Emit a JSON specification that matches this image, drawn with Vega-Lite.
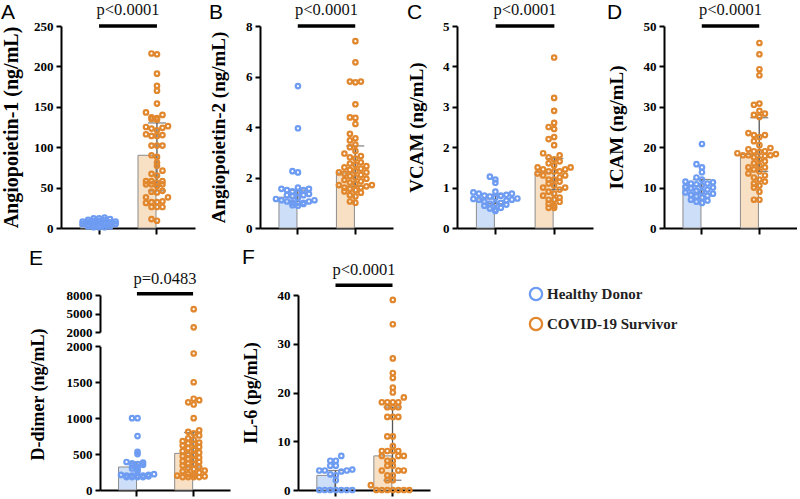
{
"$schema":"https://vega.github.io/schema/vega-lite/v6.json",
"padding":{"left":1,"top":2,"right":0,"bottom":0},
"spacing":12,
"center":true,
"datasets":{
"sum":[
{"p":"A","g":"H","m":5,"lo":3,"hi":8},{"p":"A","g":"C","m":90,"lo":46,"hi":130},
{"p":"B","g":"H","m":1.22,"lo":1.05,"hi":1.5},{"p":"B","g":"C","m":2.18,"lo":1.65,"hi":3.25},
{"p":"C","g":"H","m":0.72,"lo":0.6,"hi":0.83},{"p":"C","g":"C","m":1.38,"lo":0.95,"hi":1.72},
{"p":"D","g":"H","m":10.5,"lo":8.5,"hi":12},{"p":"D","g":"C","m":18.2,"lo":14,"hi":27.3},
{"p":"E","g":"H","m":320,"lo":200,"hi":390},{"p":"E","g":"C","m":510,"lo":320,"hi":800},
{"p":"F","g":"H","m":3,"lo":0,"hi":4},{"p":"F","g":"C","m":7,"lo":2,"hi":17}],
"sig":[{"p":"A","t":"p<0.0001"},{"p":"B","t":"p<0.0001"},{"p":"C","t":"p<0.0001"},{"p":"D","t":"p<0.0001"},{"p":"E","t":"p=0.0483"},{"p":"F","t":"p<0.0001"}],
"leg":[{"name":"Healthy Donor"},{"name":"COVID-19 Survivor"}],
"pts":[
{"p":"A","g":"H","v":13},{"p":"A","g":"H","v":12},{"p":"A","g":"H","v":12},{"p":"A","g":"H","v":11},{"p":"A","g":"H","v":10},{"p":"A","g":"H","v":10},{"p":"A","g":"H","v":9},{"p":"A","g":"H","v":9},{"p":"A","g":"H","v":8},{"p":"A","g":"H","v":8},{"p":"A","g":"H","v":7},{"p":"A","g":"H","v":7},{"p":"A","g":"H","v":6},{"p":"A","g":"H","v":6},{"p":"A","g":"H","v":6},{"p":"A","g":"H","v":5},{"p":"A","g":"H","v":5},{"p":"A","g":"H","v":5},{"p":"A","g":"H","v":4},{"p":"A","g":"H","v":4},{"p":"A","g":"H","v":3},{"p":"A","g":"H","v":3},{"p":"A","g":"H","v":2},{"p":"A","g":"H","v":2},{"p":"A","g":"H","v":1},{"p":"A","g":"H","v":1},{"p":"A","g":"H","v":1},
{"p":"A","g":"C","v":216},{"p":"A","g":"C","v":215},{"p":"A","g":"C","v":191},{"p":"A","g":"C","v":176},{"p":"A","g":"C","v":170},{"p":"A","g":"C","v":154},{"p":"A","g":"C","v":143},{"p":"A","g":"C","v":140},{"p":"A","g":"C","v":137},{"p":"A","g":"C","v":136},{"p":"A","g":"C","v":135},{"p":"A","g":"C","v":134},{"p":"A","g":"C","v":126},{"p":"A","g":"C","v":125},{"p":"A","g":"C","v":124},{"p":"A","g":"C","v":123},{"p":"A","g":"C","v":121},{"p":"A","g":"C","v":116},{"p":"A","g":"C","v":115},{"p":"A","g":"C","v":114},{"p":"A","g":"C","v":114},{"p":"A","g":"C","v":102},{"p":"A","g":"C","v":102},{"p":"A","g":"C","v":102},{"p":"A","g":"C","v":90},{"p":"A","g":"C","v":88},{"p":"A","g":"C","v":81},{"p":"A","g":"C","v":77},{"p":"A","g":"C","v":71},{"p":"A","g":"C","v":67},{"p":"A","g":"C","v":65},{"p":"A","g":"C","v":58},{"p":"A","g":"C","v":58},{"p":"A","g":"C","v":58},{"p":"A","g":"C","v":56},{"p":"A","g":"C","v":54},{"p":"A","g":"C","v":54},{"p":"A","g":"C","v":54},{"p":"A","g":"C","v":52},{"p":"A","g":"C","v":46},{"p":"A","g":"C","v":45},{"p":"A","g":"C","v":44},{"p":"A","g":"C","v":38},{"p":"A","g":"C","v":38},{"p":"A","g":"C","v":33},{"p":"A","g":"C","v":32},{"p":"A","g":"C","v":32},{"p":"A","g":"C","v":31},{"p":"A","g":"C","v":26},{"p":"A","g":"C","v":26},{"p":"A","g":"C","v":26},{"p":"A","g":"C","v":11},{"p":"A","g":"C","v":9},
{"p":"B","g":"H","v":5.62},{"p":"B","g":"H","v":3.95},{"p":"B","g":"H","v":2.25},{"p":"B","g":"H","v":2.2},{"p":"B","g":"H","v":1.6},{"p":"B","g":"H","v":1.55},{"p":"B","g":"H","v":1.55},{"p":"B","g":"H","v":1.5},{"p":"B","g":"H","v":1.5},{"p":"B","g":"H","v":1.45},{"p":"B","g":"H","v":1.4},{"p":"B","g":"H","v":1.35},{"p":"B","g":"H","v":1.3},{"p":"B","g":"H","v":1.3},{"p":"B","g":"H","v":1.25},{"p":"B","g":"H","v":1.2},{"p":"B","g":"H","v":1.15},{"p":"B","g":"H","v":1.1},{"p":"B","g":"H","v":1.1},{"p":"B","g":"H","v":1.05},{"p":"B","g":"H","v":1.05},{"p":"B","g":"H","v":1.0},{"p":"B","g":"H","v":1.0},{"p":"B","g":"H","v":1.0},{"p":"B","g":"H","v":0.95},{"p":"B","g":"H","v":0.9},{"p":"B","g":"H","v":0.88},
{"p":"B","g":"C","v":7.4},{"p":"B","g":"C","v":6.56},{"p":"B","g":"C","v":5.8},{"p":"B","g":"C","v":5.8},{"p":"B","g":"C","v":5.77},{"p":"B","g":"C","v":4.9},{"p":"B","g":"C","v":4.38},{"p":"B","g":"C","v":4.36},{"p":"B","g":"C","v":4.12},{"p":"B","g":"C","v":3.73},{"p":"B","g":"C","v":3.55},{"p":"B","g":"C","v":3.47},{"p":"B","g":"C","v":3.3},{"p":"B","g":"C","v":3.2},{"p":"B","g":"C","v":3.05},{"p":"B","g":"C","v":2.95},{"p":"B","g":"C","v":2.85},{"p":"B","g":"C","v":2.8},{"p":"B","g":"C","v":2.75},{"p":"B","g":"C","v":2.6},{"p":"B","g":"C","v":2.55},{"p":"B","g":"C","v":2.5},{"p":"B","g":"C","v":2.45},{"p":"B","g":"C","v":2.4},{"p":"B","g":"C","v":2.35},{"p":"B","g":"C","v":2.3},{"p":"B","g":"C","v":2.25},{"p":"B","g":"C","v":2.2},{"p":"B","g":"C","v":2.2},{"p":"B","g":"C","v":2.15},{"p":"B","g":"C","v":2.1},{"p":"B","g":"C","v":2.05},{"p":"B","g":"C","v":2.0},{"p":"B","g":"C","v":1.95},{"p":"B","g":"C","v":1.9},{"p":"B","g":"C","v":1.85},{"p":"B","g":"C","v":1.8},{"p":"B","g":"C","v":1.75},{"p":"B","g":"C","v":1.7},{"p":"B","g":"C","v":1.7},{"p":"B","g":"C","v":1.65},{"p":"B","g":"C","v":1.6},{"p":"B","g":"C","v":1.6},{"p":"B","g":"C","v":1.55},{"p":"B","g":"C","v":1.5},{"p":"B","g":"C","v":1.45},{"p":"B","g":"C","v":1.4},{"p":"B","g":"C","v":1.3},{"p":"B","g":"C","v":1.25},{"p":"B","g":"C","v":1.05},{"p":"B","g":"C","v":1.0},
{"p":"C","g":"H","v":1.27},{"p":"C","g":"H","v":1.2},{"p":"C","g":"H","v":1.12},{"p":"C","g":"H","v":0.9},{"p":"C","g":"H","v":0.88},{"p":"C","g":"H","v":0.85},{"p":"C","g":"H","v":0.85},{"p":"C","g":"H","v":0.82},{"p":"C","g":"H","v":0.8},{"p":"C","g":"H","v":0.8},{"p":"C","g":"H","v":0.78},{"p":"C","g":"H","v":0.75},{"p":"C","g":"H","v":0.73},{"p":"C","g":"H","v":0.72},{"p":"C","g":"H","v":0.7},{"p":"C","g":"H","v":0.7},{"p":"C","g":"H","v":0.68},{"p":"C","g":"H","v":0.65},{"p":"C","g":"H","v":0.62},{"p":"C","g":"H","v":0.6},{"p":"C","g":"H","v":0.6},{"p":"C","g":"H","v":0.58},{"p":"C","g":"H","v":0.55},{"p":"C","g":"H","v":0.5},{"p":"C","g":"H","v":0.48},{"p":"C","g":"H","v":0.45},{"p":"C","g":"H","v":0.42},
{"p":"C","g":"C","v":4.22},{"p":"C","g":"C","v":3.22},{"p":"C","g":"C","v":2.9},{"p":"C","g":"C","v":2.6},{"p":"C","g":"C","v":2.5},{"p":"C","g":"C","v":2.45},{"p":"C","g":"C","v":2.25},{"p":"C","g":"C","v":2.2},{"p":"C","g":"C","v":2.05},{"p":"C","g":"C","v":1.85},{"p":"C","g":"C","v":1.8},{"p":"C","g":"C","v":1.75},{"p":"C","g":"C","v":1.7},{"p":"C","g":"C","v":1.65},{"p":"C","g":"C","v":1.6},{"p":"C","g":"C","v":1.55},{"p":"C","g":"C","v":1.5},{"p":"C","g":"C","v":1.5},{"p":"C","g":"C","v":1.45},{"p":"C","g":"C","v":1.45},{"p":"C","g":"C","v":1.4},{"p":"C","g":"C","v":1.4},{"p":"C","g":"C","v":1.4},{"p":"C","g":"C","v":1.35},{"p":"C","g":"C","v":1.3},{"p":"C","g":"C","v":1.3},{"p":"C","g":"C","v":1.25},{"p":"C","g":"C","v":1.2},{"p":"C","g":"C","v":1.2},{"p":"C","g":"C","v":1.15},{"p":"C","g":"C","v":1.1},{"p":"C","g":"C","v":1.05},{"p":"C","g":"C","v":1.0},{"p":"C","g":"C","v":1.0},{"p":"C","g":"C","v":0.95},{"p":"C","g":"C","v":0.9},{"p":"C","g":"C","v":0.85},{"p":"C","g":"C","v":0.8},{"p":"C","g":"C","v":0.75},{"p":"C","g":"C","v":0.7},{"p":"C","g":"C","v":0.7},{"p":"C","g":"C","v":0.65},{"p":"C","g":"C","v":0.6},{"p":"C","g":"C","v":0.55},{"p":"C","g":"C","v":0.5},{"p":"C","g":"C","v":0.5},
{"p":"D","g":"H","v":20.8},{"p":"D","g":"H","v":15.8},{"p":"D","g":"H","v":15},{"p":"D","g":"H","v":13.8},{"p":"D","g":"H","v":12.5},{"p":"D","g":"H","v":12},{"p":"D","g":"H","v":11.5},{"p":"D","g":"H","v":11.3},{"p":"D","g":"H","v":11},{"p":"D","g":"H","v":11},{"p":"D","g":"H","v":10.8},{"p":"D","g":"H","v":10.5},{"p":"D","g":"H","v":10.2},{"p":"D","g":"H","v":10},{"p":"D","g":"H","v":9.8},{"p":"D","g":"H","v":9.5},{"p":"D","g":"H","v":9.2},{"p":"D","g":"H","v":9},{"p":"D","g":"H","v":8.8},{"p":"D","g":"H","v":8.5},{"p":"D","g":"H","v":8.2},{"p":"D","g":"H","v":8},{"p":"D","g":"H","v":7.8},{"p":"D","g":"H","v":7.5},{"p":"D","g":"H","v":7},{"p":"D","g":"H","v":6.8},{"p":"D","g":"H","v":6.5},{"p":"D","g":"H","v":6.2},
{"p":"D","g":"C","v":45.8},{"p":"D","g":"C","v":43},{"p":"D","g":"C","v":39.3},{"p":"D","g":"C","v":37.8},{"p":"D","g":"C","v":30.8},{"p":"D","g":"C","v":30.5},{"p":"D","g":"C","v":29},{"p":"D","g":"C","v":28.3},{"p":"D","g":"C","v":28},{"p":"D","g":"C","v":27.5},{"p":"D","g":"C","v":23.5},{"p":"D","g":"C","v":23},{"p":"D","g":"C","v":23},{"p":"D","g":"C","v":22.5},{"p":"D","g":"C","v":21.5},{"p":"D","g":"C","v":20.5},{"p":"D","g":"C","v":19.8},{"p":"D","g":"C","v":19.5},{"p":"D","g":"C","v":19},{"p":"D","g":"C","v":19},{"p":"D","g":"C","v":18.8},{"p":"D","g":"C","v":18.5},{"p":"D","g":"C","v":18.3},{"p":"D","g":"C","v":18},{"p":"D","g":"C","v":18},{"p":"D","g":"C","v":18},{"p":"D","g":"C","v":17.8},{"p":"D","g":"C","v":17.5},{"p":"D","g":"C","v":17},{"p":"D","g":"C","v":16.5},{"p":"D","g":"C","v":16},{"p":"D","g":"C","v":15.5},{"p":"D","g":"C","v":15},{"p":"D","g":"C","v":15},{"p":"D","g":"C","v":14.5},{"p":"D","g":"C","v":14},{"p":"D","g":"C","v":13.5},{"p":"D","g":"C","v":13},{"p":"D","g":"C","v":12.5},{"p":"D","g":"C","v":12},{"p":"D","g":"C","v":11.5},{"p":"D","g":"C","v":11},{"p":"D","g":"C","v":10.5},{"p":"D","g":"C","v":10},{"p":"D","g":"C","v":9},{"p":"D","g":"C","v":7},{"p":"D","g":"C","v":7},
{"p":"E","g":"H","v":1000},{"p":"E","g":"H","v":1000},{"p":"E","g":"H","v":750},{"p":"E","g":"H","v":530},{"p":"E","g":"H","v":500},{"p":"E","g":"H","v":390},{"p":"E","g":"H","v":380},{"p":"E","g":"H","v":370},{"p":"E","g":"H","v":360},{"p":"E","g":"H","v":350},{"p":"E","g":"H","v":340},{"p":"E","g":"H","v":320},{"p":"E","g":"H","v":300},{"p":"E","g":"H","v":290},{"p":"E","g":"H","v":260},{"p":"E","g":"H","v":220},{"p":"E","g":"H","v":210},{"p":"E","g":"H","v":210},{"p":"E","g":"H","v":200},{"p":"E","g":"H","v":200},{"p":"E","g":"H","v":200},{"p":"E","g":"H","v":200},{"p":"E","g":"H","v":190},{"p":"E","g":"H","v":180},{"p":"E","g":"H","v":180},{"p":"E","g":"H","v":180},{"p":"E","g":"H","v":180},
{"p":"E","g":"C","v":5700},{"p":"E","g":"C","v":2760},{"p":"E","g":"C","v":1900},{"p":"E","g":"C","v":1500},{"p":"E","g":"C","v":1270},{"p":"E","g":"C","v":1250},{"p":"E","g":"C","v":1220},{"p":"E","g":"C","v":1190},{"p":"E","g":"C","v":1000},{"p":"E","g":"C","v":830},{"p":"E","g":"C","v":810},{"p":"E","g":"C","v":790},{"p":"E","g":"C","v":760},{"p":"E","g":"C","v":720},{"p":"E","g":"C","v":700},{"p":"E","g":"C","v":680},{"p":"E","g":"C","v":660},{"p":"E","g":"C","v":650},{"p":"E","g":"C","v":640},{"p":"E","g":"C","v":620},{"p":"E","g":"C","v":600},{"p":"E","g":"C","v":580},{"p":"E","g":"C","v":560},{"p":"E","g":"C","v":540},{"p":"E","g":"C","v":520},{"p":"E","g":"C","v":500},{"p":"E","g":"C","v":490},{"p":"E","g":"C","v":470},{"p":"E","g":"C","v":450},{"p":"E","g":"C","v":430},{"p":"E","g":"C","v":420},{"p":"E","g":"C","v":400},{"p":"E","g":"C","v":390},{"p":"E","g":"C","v":370},{"p":"E","g":"C","v":360},{"p":"E","g":"C","v":340},{"p":"E","g":"C","v":320},{"p":"E","g":"C","v":310},{"p":"E","g":"C","v":290},{"p":"E","g":"C","v":270},{"p":"E","g":"C","v":260},{"p":"E","g":"C","v":240},{"p":"E","g":"C","v":220},{"p":"E","g":"C","v":210},{"p":"E","g":"C","v":200},{"p":"E","g":"C","v":190},{"p":"E","g":"C","v":180},{"p":"E","g":"C","v":180},{"p":"E","g":"C","v":180},{"p":"E","g":"C","v":180},
{"p":"F","g":"H","v":7},{"p":"F","g":"H","v":6},{"p":"F","g":"H","v":6},{"p":"F","g":"H","v":5},{"p":"F","g":"H","v":5},{"p":"F","g":"H","v":4.2},{"p":"F","g":"H","v":4},{"p":"F","g":"H","v":4},{"p":"F","g":"H","v":4},{"p":"F","g":"H","v":3.8},{"p":"F","g":"H","v":3.2},{"p":"F","g":"H","v":3},{"p":"F","g":"H","v":2},{"p":"F","g":"H","v":0},{"p":"F","g":"H","v":0},{"p":"F","g":"H","v":0},{"p":"F","g":"H","v":0},{"p":"F","g":"H","v":0},{"p":"F","g":"H","v":0},{"p":"F","g":"H","v":0},
{"p":"F","g":"C","v":39},{"p":"F","g":"C","v":34},{"p":"F","g":"C","v":27},{"p":"F","g":"C","v":24},{"p":"F","g":"C","v":23},{"p":"F","g":"C","v":21},{"p":"F","g":"C","v":20},{"p":"F","g":"C","v":19},{"p":"F","g":"C","v":18},{"p":"F","g":"C","v":18},{"p":"F","g":"C","v":18},{"p":"F","g":"C","v":18},{"p":"F","g":"C","v":17},{"p":"F","g":"C","v":17},{"p":"F","g":"C","v":17},{"p":"F","g":"C","v":15},{"p":"F","g":"C","v":15},{"p":"F","g":"C","v":15},{"p":"F","g":"C","v":11},{"p":"F","g":"C","v":11},{"p":"F","g":"C","v":9},{"p":"F","g":"C","v":8},{"p":"F","g":"C","v":8},{"p":"F","g":"C","v":8},{"p":"F","g":"C","v":8},{"p":"F","g":"C","v":7},{"p":"F","g":"C","v":7},{"p":"F","g":"C","v":7},{"p":"F","g":"C","v":6},{"p":"F","g":"C","v":6},{"p":"F","g":"C","v":5},{"p":"F","g":"C","v":5},{"p":"F","g":"C","v":4},{"p":"F","g":"C","v":4},{"p":"F","g":"C","v":4},{"p":"F","g":"C","v":3},{"p":"F","g":"C","v":3},{"p":"F","g":"C","v":2},{"p":"F","g":"C","v":2},{"p":"F","g":"C","v":1},{"p":"F","g":"C","v":0},{"p":"F","g":"C","v":0},{"p":"F","g":"C","v":0},{"p":"F","g":"C","v":0},{"p":"F","g":"C","v":0},{"p":"F","g":"C","v":0},{"p":"F","g":"C","v":0}
]},
"vconcat":[
{"spacing":14,"hconcat":[
{"width":134,"height":202,"title":{"text":"A","offset":-21},
"layer":[
{"data":{"name":"sum"},"transform":[{"filter":{"field":"p","equal":"A"}}],"mark":{"type":"bar","stroke":"#8c8c8c","strokeWidth":1},
"encoding":{"x":{"field":"g","type":"nominal","title":null,"scale":{"domain":["H","C"],"paddingInner":0.345,"paddingOuter":0.33},"axis":{"labels":false}},
"y":{"field":"m","type":"quantitative","title":"Angiopoietin-1 (ng/mL)","scale":{"domain":[0,250],"nice":false},"axis":{"values":[0,50,100,150,200,250],"minExtent":40,"maxExtent":40,"titleFontSize":20}},
"fill":{"field":"g","type":"nominal","scale":{"domain":["H","C"],"range":["#cddef8","#f8e0c4"]},"legend":null}}},
{"data":{"name":"sum"},"transform":[{"filter":{"field":"p","equal":"A"}}],"mark":{"type":"rule","color":"#555","strokeWidth":1.3},
"encoding":{"x":{"field":"g","type":"nominal","title":null},"y":{"field":"lo","type":"quantitative","title":"Angiopoietin-1 (ng/mL)"},"y2":{"field":"hi"}}},
{"data":{"name":"sum"},"transform":[{"filter":{"field":"p","equal":"A"}}],"mark":{"type":"tick","color":"#555","thickness":1.3,"size":18,"orient":"horizontal"},
"encoding":{"x":{"field":"g","type":"nominal","title":null},"y":{"field":"hi","type":"quantitative","title":"Angiopoietin-1 (ng/mL)"}}},
{"data":{"name":"sum"},"transform":[{"filter":{"field":"p","equal":"A"}}],"mark":{"type":"tick","color":"#555","thickness":1.3,"size":18,"orient":"horizontal"},
"encoding":{"x":{"field":"g","type":"nominal","title":null},"y":{"field":"lo","type":"quantitative","title":"Angiopoietin-1 (ng/mL)"}}},
{"data":{"name":"pts"},"transform":[{"filter":{"field":"p","equal":"A"}},{"filter":{"field":"g","equal":"H"}},{"bin":{"step":3},"field":"v","as":"vb"},{"window":[{"op":"row_number","as":"r"}],"groupby":["vb"],"sort":[{"field":"v"}]}],
"mark":{"type":"point","shape":"circle","filled":false,"color":"#6e9cf2","strokeWidth":2.2,"size":20,"opacity":1},
"encoding":{"x":{"field":"g","type":"nominal","title":null},"xOffset":{"field":"r","type":"ordinal","scale":{"type":"point","padding":0,"domain":[14,12,10,8,6,4,2,1,3,5,7,9,11,13,15],"range":[-19.5,57.5]}},"y":{"field":"v","type":"quantitative","title":"Angiopoietin-1 (ng/mL)"}}},
{"data":{"name":"pts"},"transform":[{"filter":{"field":"p","equal":"A"}},{"filter":{"field":"g","equal":"C"}},{"bin":{"step":8},"field":"v","as":"vb"},{"window":[{"op":"row_number","as":"r"}],"groupby":["vb"],"sort":[{"field":"v"}]}],
"mark":{"type":"point","shape":"circle","filled":false,"color":"#e1872d","strokeWidth":2.2,"size":20,"opacity":1},
"encoding":{"x":{"field":"g","type":"nominal","title":null},"xOffset":{"field":"r","type":"ordinal"},"y":{"field":"v","type":"quantitative","title":"Angiopoietin-1 (ng/mL)"}}},
{"data":{"name":"sig"},"transform":[{"filter":{"field":"p","equal":"A"}}],"mark":{"type":"rule","color":"#000","strokeWidth":3.5},
"encoding":{"x":{"datum":"H","type":"nominal","bandPosition":0.5},"x2":{"datum":"C","bandPosition":0.5},"y":{"datum":250,"type":"quantitative"}}},
{"data":{"name":"sig"},"transform":[{"filter":{"field":"p","equal":"A"}}],"mark":{"type":"text","font":"Liberation Serif","fontSize":16.5,"color":"#111","baseline":"alphabetic","dy":-11},
"encoding":{"y":{"datum":250,"type":"quantitative"},"text":{"field":"t"}}}
]},
{"width":133,"height":202,"title":{"text":"B","offset":-21},
"layer":[
{"data":{"name":"sum"},"transform":[{"filter":{"field":"p","equal":"B"}}],"mark":{"type":"bar","stroke":"#8c8c8c","strokeWidth":1},
"encoding":{"x":{"field":"g","type":"nominal","title":null,"scale":{"domain":["H","C"],"paddingInner":0.345,"paddingOuter":0.33},"axis":{"labels":false}},
"y":{"field":"m","type":"quantitative","title":"Angiopoietin-2 (ng/mL)","scale":{"domain":[0,8],"nice":false},"axis":{"values":[0,2,4,6,8],"minExtent":32,"maxExtent":32,"titleFontSize":19}},
"fill":{"field":"g","type":"nominal","scale":{"domain":["H","C"],"range":["#cddef8","#f8e0c4"]},"legend":null}}},
{"data":{"name":"sum"},"transform":[{"filter":{"field":"p","equal":"B"}}],"mark":{"type":"rule","color":"#555","strokeWidth":1.3},
"encoding":{"x":{"field":"g","type":"nominal","title":null},"y":{"field":"lo","type":"quantitative","title":"Angiopoietin-2 (ng/mL)"},"y2":{"field":"hi"}}},
{"data":{"name":"sum"},"transform":[{"filter":{"field":"p","equal":"B"}}],"mark":{"type":"tick","color":"#555","thickness":1.3,"size":18,"orient":"horizontal"},
"encoding":{"x":{"field":"g","type":"nominal","title":null},"y":{"field":"hi","type":"quantitative","title":"Angiopoietin-2 (ng/mL)"}}},
{"data":{"name":"sum"},"transform":[{"filter":{"field":"p","equal":"B"}}],"mark":{"type":"tick","color":"#555","thickness":1.3,"size":18,"orient":"horizontal"},
"encoding":{"x":{"field":"g","type":"nominal","title":null},"y":{"field":"lo","type":"quantitative","title":"Angiopoietin-2 (ng/mL)"}}},
{"data":{"name":"pts"},"transform":[{"filter":{"field":"p","equal":"B"}},{"filter":{"field":"g","equal":"H"}},{"bin":{"step":0.2},"field":"v","as":"vb"},{"window":[{"op":"row_number","as":"r"}],"groupby":["vb"],"sort":[{"field":"v"}]}],
"mark":{"type":"point","shape":"circle","filled":false,"color":"#6e9cf2","strokeWidth":2.2,"size":20,"opacity":1},
"encoding":{"x":{"field":"g","type":"nominal","title":null},"xOffset":{"field":"r","type":"ordinal","scale":{"type":"point","padding":0,"domain":[14,12,10,8,6,4,2,1,3,5,7,9,11,13,15],"range":[-19.5,57.5]}},"y":{"field":"v","type":"quantitative","title":"Angiopoietin-2 (ng/mL)"}}},
{"data":{"name":"pts"},"transform":[{"filter":{"field":"p","equal":"B"}},{"filter":{"field":"g","equal":"C"}},{"bin":{"step":0.25},"field":"v","as":"vb"},{"window":[{"op":"row_number","as":"r"}],"groupby":["vb"],"sort":[{"field":"v"}]}],
"mark":{"type":"point","shape":"circle","filled":false,"color":"#e1872d","strokeWidth":2.2,"size":20,"opacity":1},
"encoding":{"x":{"field":"g","type":"nominal","title":null},"xOffset":{"field":"r","type":"ordinal"},"y":{"field":"v","type":"quantitative","title":"Angiopoietin-2 (ng/mL)"}}},
{"data":{"name":"sig"},"transform":[{"filter":{"field":"p","equal":"B"}}],"mark":{"type":"rule","color":"#000","strokeWidth":3.5},
"encoding":{"x":{"datum":"H","type":"nominal","bandPosition":0.5},"x2":{"datum":"C","bandPosition":0.5},"y":{"datum":8,"type":"quantitative"}}},
{"data":{"name":"sig"},"transform":[{"filter":{"field":"p","equal":"B"}}],"mark":{"type":"text","font":"Liberation Serif","fontSize":16.5,"color":"#111","baseline":"alphabetic","dy":-11},
"encoding":{"y":{"datum":8,"type":"quantitative"},"text":{"field":"t"}}}
]},
{"width":136,"height":202,"title":{"text":"C","offset":-21},
"layer":[
{"data":{"name":"sum"},"transform":[{"filter":{"field":"p","equal":"C"}}],"mark":{"type":"bar","stroke":"#8c8c8c","strokeWidth":1},
"encoding":{"x":{"field":"g","type":"nominal","title":null,"scale":{"domain":["H","C"],"paddingInner":0.345,"paddingOuter":0.33},"axis":{"labels":false}},
"y":{"field":"m","type":"quantitative","title":"VCAM (ng/mL)","scale":{"domain":[0,5],"nice":false},"axis":{"values":[0,1,2,3,4,5],"minExtent":31,"maxExtent":31,"titleFontSize":19}},
"fill":{"field":"g","type":"nominal","scale":{"domain":["H","C"],"range":["#cddef8","#f8e0c4"]},"legend":null}}},
{"data":{"name":"sum"},"transform":[{"filter":{"field":"p","equal":"C"}}],"mark":{"type":"rule","color":"#555","strokeWidth":1.3},
"encoding":{"x":{"field":"g","type":"nominal","title":null},"y":{"field":"lo","type":"quantitative","title":"VCAM (ng/mL)"},"y2":{"field":"hi"}}},
{"data":{"name":"sum"},"transform":[{"filter":{"field":"p","equal":"C"}}],"mark":{"type":"tick","color":"#555","thickness":1.3,"size":18,"orient":"horizontal"},
"encoding":{"x":{"field":"g","type":"nominal","title":null},"y":{"field":"hi","type":"quantitative","title":"VCAM (ng/mL)"}}},
{"data":{"name":"sum"},"transform":[{"filter":{"field":"p","equal":"C"}}],"mark":{"type":"tick","color":"#555","thickness":1.3,"size":18,"orient":"horizontal"},
"encoding":{"x":{"field":"g","type":"nominal","title":null},"y":{"field":"lo","type":"quantitative","title":"VCAM (ng/mL)"}}},
{"data":{"name":"pts"},"transform":[{"filter":{"field":"p","equal":"C"}},{"filter":{"field":"g","equal":"H"}},{"bin":{"step":0.15},"field":"v","as":"vb"},{"window":[{"op":"row_number","as":"r"}],"groupby":["vb"],"sort":[{"field":"v"}]}],
"mark":{"type":"point","shape":"circle","filled":false,"color":"#6e9cf2","strokeWidth":2.2,"size":20,"opacity":1},
"encoding":{"x":{"field":"g","type":"nominal","title":null},"xOffset":{"field":"r","type":"ordinal","scale":{"type":"point","padding":0,"domain":[14,12,10,8,6,4,2,1,3,5,7,9,11,13,15],"range":[-19.5,57.5]}},"y":{"field":"v","type":"quantitative","title":"VCAM (ng/mL)"}}},
{"data":{"name":"pts"},"transform":[{"filter":{"field":"p","equal":"C"}},{"filter":{"field":"g","equal":"C"}},{"bin":{"step":0.17},"field":"v","as":"vb"},{"window":[{"op":"row_number","as":"r"}],"groupby":["vb"],"sort":[{"field":"v"}]}],
"mark":{"type":"point","shape":"circle","filled":false,"color":"#e1872d","strokeWidth":2.2,"size":20,"opacity":1},
"encoding":{"x":{"field":"g","type":"nominal","title":null},"xOffset":{"field":"r","type":"ordinal"},"y":{"field":"v","type":"quantitative","title":"VCAM (ng/mL)"}}},
{"data":{"name":"sig"},"transform":[{"filter":{"field":"p","equal":"C"}}],"mark":{"type":"rule","color":"#000","strokeWidth":3.5},
"encoding":{"x":{"datum":"H","type":"nominal","bandPosition":0.5},"x2":{"datum":"C","bandPosition":0.5},"y":{"datum":5,"type":"quantitative"}}},
{"data":{"name":"sig"},"transform":[{"filter":{"field":"p","equal":"C"}}],"mark":{"type":"text","font":"Liberation Serif","fontSize":16.5,"color":"#111","baseline":"alphabetic","dy":-11},
"encoding":{"y":{"datum":5,"type":"quantitative"},"text":{"field":"t"}}}
]},
{"width":133,"height":202,"title":{"text":"D","offset":-21},
"layer":[
{"data":{"name":"sum"},"transform":[{"filter":{"field":"p","equal":"D"}}],"mark":{"type":"bar","stroke":"#8c8c8c","strokeWidth":1},
"encoding":{"x":{"field":"g","type":"nominal","title":null,"scale":{"domain":["H","C"],"paddingInner":0.345,"paddingOuter":0.33},"axis":{"labels":false}},
"y":{"field":"m","type":"quantitative","title":"ICAM (ng/mL)","scale":{"domain":[0,50],"nice":false},"axis":{"values":[0,10,20,30,40,50],"minExtent":38,"maxExtent":38,"titleFontSize":19}},
"fill":{"field":"g","type":"nominal","scale":{"domain":["H","C"],"range":["#cddef8","#f8e0c4"]},"legend":null}}},
{"data":{"name":"sum"},"transform":[{"filter":{"field":"p","equal":"D"}}],"mark":{"type":"rule","color":"#555","strokeWidth":1.3},
"encoding":{"x":{"field":"g","type":"nominal","title":null},"y":{"field":"lo","type":"quantitative","title":"ICAM (ng/mL)"},"y2":{"field":"hi"}}},
{"data":{"name":"sum"},"transform":[{"filter":{"field":"p","equal":"D"}}],"mark":{"type":"tick","color":"#555","thickness":1.3,"size":18,"orient":"horizontal"},
"encoding":{"x":{"field":"g","type":"nominal","title":null},"y":{"field":"hi","type":"quantitative","title":"ICAM (ng/mL)"}}},
{"data":{"name":"sum"},"transform":[{"filter":{"field":"p","equal":"D"}}],"mark":{"type":"tick","color":"#555","thickness":1.3,"size":18,"orient":"horizontal"},
"encoding":{"x":{"field":"g","type":"nominal","title":null},"y":{"field":"lo","type":"quantitative","title":"ICAM (ng/mL)"}}},
{"data":{"name":"pts"},"transform":[{"filter":{"field":"p","equal":"D"}},{"filter":{"field":"g","equal":"H"}},{"bin":{"step":1.5},"field":"v","as":"vb"},{"window":[{"op":"row_number","as":"r"}],"groupby":["vb"],"sort":[{"field":"v"}]}],
"mark":{"type":"point","shape":"circle","filled":false,"color":"#6e9cf2","strokeWidth":2.2,"size":20,"opacity":1},
"encoding":{"x":{"field":"g","type":"nominal","title":null},"xOffset":{"field":"r","type":"ordinal","scale":{"type":"point","padding":0,"domain":[14,12,10,8,6,4,2,1,3,5,7,9,11,13,15],"range":[-19.5,57.5]}},"y":{"field":"v","type":"quantitative","title":"ICAM (ng/mL)"}}},
{"data":{"name":"pts"},"transform":[{"filter":{"field":"p","equal":"D"}},{"filter":{"field":"g","equal":"C"}},{"bin":{"step":1.7},"field":"v","as":"vb"},{"window":[{"op":"row_number","as":"r"}],"groupby":["vb"],"sort":[{"field":"v"}]}],
"mark":{"type":"point","shape":"circle","filled":false,"color":"#e1872d","strokeWidth":2.2,"size":20,"opacity":1},
"encoding":{"x":{"field":"g","type":"nominal","title":null},"xOffset":{"field":"r","type":"ordinal"},"y":{"field":"v","type":"quantitative","title":"ICAM (ng/mL)"}}},
{"data":{"name":"sig"},"transform":[{"filter":{"field":"p","equal":"D"}}],"mark":{"type":"rule","color":"#000","strokeWidth":3.5},
"encoding":{"x":{"datum":"H","type":"nominal","bandPosition":0.5},"x2":{"datum":"C","bandPosition":0.5},"y":{"datum":50,"type":"quantitative"}}},
{"data":{"name":"sig"},"transform":[{"filter":{"field":"p","equal":"D"}}],"mark":{"type":"text","font":"Liberation Serif","fontSize":16.5,"color":"#111","baseline":"alphabetic","dy":-11},
"encoding":{"y":{"datum":50,"type":"quantitative"},"text":{"field":"t"}}}
]}
]},
{"spacing":95,"hconcat":[
{"spacing":12,"hconcat":[
{"width":130,"height":195,"title":{"text":"E","offset":2},
"resolve":{"scale":{"y":"independent"}},
"layer":[
{"data":{"name":"sum"},"transform":[{"filter":{"field":"p","equal":"E"}}],"mark":{"type":"bar","stroke":"#8c8c8c","strokeWidth":1},
"encoding":{"x":{"field":"g","type":"nominal","title":null,"scale":{"domain":["H","C"],"paddingInner":0.345,"paddingOuter":0.33},"axis":{"labels":false}},
"y":{"field":"m","type":"quantitative","title":"D-dimer (ng/mL)","scale":{"domain":[0,2000],"range":[195,51.3],"nice":false,"zero":false},"axis":{"values":[0,500,1000,1500,2000],"format":"d","minExtent":53,"maxExtent":53,"titleY":99}},
"fill":{"field":"g","type":"nominal","scale":{"domain":["H","C"],"range":["#cddef8","#f8e0c4"]},"legend":null}}},
{"data":{"name":"sum"},"transform":[{"filter":{"field":"p","equal":"E"}}],"mark":{"type":"rule","color":"#555","strokeWidth":1.3},
"encoding":{"x":{"field":"g","type":"nominal","title":null},"y":{"field":"lo","type":"quantitative","scale":{"domain":[0,2000],"range":[195,51.3],"nice":false,"zero":false},"axis":null},"y2":{"field":"hi"}}},
{"data":{"name":"sum"},"transform":[{"filter":{"field":"p","equal":"E"}}],"mark":{"type":"tick","color":"#555","thickness":1.3,"size":18,"orient":"horizontal"},
"encoding":{"x":{"field":"g","type":"nominal","title":null},"y":{"field":"hi","type":"quantitative","scale":{"domain":[0,2000],"range":[195,51.3],"nice":false,"zero":false},"axis":null}}},
{"data":{"name":"sum"},"transform":[{"filter":{"field":"p","equal":"E"}}],"mark":{"type":"tick","color":"#555","thickness":1.3,"size":18,"orient":"horizontal"},
"encoding":{"x":{"field":"g","type":"nominal","title":null},"y":{"field":"lo","type":"quantitative","scale":{"domain":[0,2000],"range":[195,51.3],"nice":false,"zero":false},"axis":null}}},
{"data":{"name":"pts"},"transform":[{"filter":{"field":"p","equal":"E"}},{"filter":{"field":"g","equal":"H"}},{"bin":{"step":40},"field":"v","as":"vb"},{"window":[{"op":"row_number","as":"r"}],"groupby":["vb"],"sort":[{"field":"v"}]}],
"mark":{"type":"point","shape":"circle","filled":false,"color":"#6e9cf2","strokeWidth":2.2,"size":20,"opacity":1},
"encoding":{"x":{"field":"g","type":"nominal","title":null},"xOffset":{"field":"r","type":"ordinal","scale":{"type":"point","padding":0,"domain":[14,12,10,8,6,4,2,1,3,5,7,9,11,13,15],"range":[-19.5,57.5]}},"y":{"field":"v","type":"quantitative","scale":{"domain":[0,2000,2001,8000],"range":[195,51.3,37,0],"nice":false,"zero":false},"axis":null}}},
{"data":{"name":"pts"},"transform":[{"filter":{"field":"p","equal":"E"}},{"filter":{"field":"g","equal":"C"}},{"bin":{"step":70},"field":"v","as":"vb"},{"window":[{"op":"row_number","as":"r"}],"groupby":["vb"],"sort":[{"field":"v"}]}],
"mark":{"type":"point","shape":"circle","filled":false,"color":"#e1872d","strokeWidth":2.2,"size":20,"opacity":1},
"encoding":{"x":{"field":"g","type":"nominal","title":null},"xOffset":{"field":"r","type":"ordinal"},"y":{"field":"v","type":"quantitative","scale":{"domain":[0,2000,2001,8000],"range":[195,51.3,37,0],"nice":false,"zero":false},"axis":null}}},
{"data":{"name":"sig"},"transform":[{"filter":{"field":"p","equal":"E"}}],"mark":{"type":"rule","color":"#000","strokeWidth":3.5},
"encoding":{"x":{"datum":"H","type":"nominal","bandPosition":0.5},"x2":{"datum":"C","bandPosition":0.5},"y":{"datum":8200,"type":"quantitative","title":null,"scale":{"domain":[2000,8000],"range":[37,0],"nice":false,"zero":false},"axis":{"orient":"left","values":[2000,5000,8000],"format":"d","title":null}}}},
{"data":{"name":"sig"},"transform":[{"filter":{"field":"p","equal":"E"}}],"mark":{"type":"text","font":"Liberation Serif","fontSize":16.5,"color":"#111","baseline":"alphabetic","dy":-10},
"encoding":{"y":{"datum":8200,"type":"quantitative","scale":{"domain":[2000,8000],"range":[37,0],"nice":false,"zero":false},"axis":null},"text":{"field":"t"}}}
]},
{"width":132,"height":195,"title":{"text":"F","offset":-6},
"layer":[
{"data":{"name":"sum"},"transform":[{"filter":{"field":"p","equal":"F"}}],"mark":{"type":"bar","stroke":"#8c8c8c","strokeWidth":1},
"encoding":{"x":{"field":"g","type":"nominal","title":null,"scale":{"domain":["H","C"],"paddingInner":0.345,"paddingOuter":0.33},"axis":{"labels":false}},
"y":{"field":"m","type":"quantitative","title":"IL-6 (pg/mL)","scale":{"domain":[0,40],"nice":false},"axis":{"values":[0,10,20,30,40],"minExtent":38,"maxExtent":38}},
"fill":{"field":"g","type":"nominal","scale":{"domain":["H","C"],"range":["#cddef8","#f8e0c4"]},"legend":null}}},
{"data":{"name":"sum"},"transform":[{"filter":{"field":"p","equal":"F"}}],"mark":{"type":"rule","color":"#555","strokeWidth":1.3},
"encoding":{"x":{"field":"g","type":"nominal","title":null},"y":{"field":"lo","type":"quantitative","title":"IL-6 (pg/mL)"},"y2":{"field":"hi"}}},
{"data":{"name":"sum"},"transform":[{"filter":{"field":"p","equal":"F"}}],"mark":{"type":"tick","color":"#555","thickness":1.3,"size":18,"orient":"horizontal"},
"encoding":{"x":{"field":"g","type":"nominal","title":null},"y":{"field":"hi","type":"quantitative","title":"IL-6 (pg/mL)"}}},
{"data":{"name":"sum"},"transform":[{"filter":{"field":"p","equal":"F"}}],"mark":{"type":"tick","color":"#555","thickness":1.3,"size":18,"orient":"horizontal"},
"encoding":{"x":{"field":"g","type":"nominal","title":null},"y":{"field":"lo","type":"quantitative","title":"IL-6 (pg/mL)"}}},
{"data":{"name":"pts"},"transform":[{"filter":{"field":"p","equal":"F"}},{"filter":{"field":"g","equal":"H"}},{"bin":{"step":1.5},"field":"v","as":"vb"},{"window":[{"op":"row_number","as":"r"}],"groupby":["vb"],"sort":[{"field":"v"}]}],
"mark":{"type":"point","shape":"circle","filled":false,"color":"#6e9cf2","strokeWidth":2.2,"size":20,"opacity":1},
"encoding":{"x":{"field":"g","type":"nominal","title":null},"xOffset":{"field":"r","type":"ordinal","scale":{"type":"point","padding":0,"domain":[14,12,10,8,6,4,2,1,3,5,7,9,11,13,15],"range":[-19.5,57.5]}},"y":{"field":"v","type":"quantitative","title":"IL-6 (pg/mL)"}}},
{"data":{"name":"pts"},"transform":[{"filter":{"field":"p","equal":"F"}},{"filter":{"field":"g","equal":"C"}},{"bin":{"step":1.5},"field":"v","as":"vb"},{"window":[{"op":"row_number","as":"r"}],"groupby":["vb"],"sort":[{"field":"v"}]}],
"mark":{"type":"point","shape":"circle","filled":false,"color":"#e1872d","strokeWidth":2.2,"size":20,"opacity":1},
"encoding":{"x":{"field":"g","type":"nominal","title":null},"xOffset":{"field":"r","type":"ordinal"},"y":{"field":"v","type":"quantitative","title":"IL-6 (pg/mL)"}}},
{"data":{"name":"sig"},"transform":[{"filter":{"field":"p","equal":"F"}}],"mark":{"type":"rule","color":"#000","strokeWidth":3.5},
"encoding":{"x":{"datum":"H","type":"nominal","bandPosition":0.5},"x2":{"datum":"C","bandPosition":0.5},"y":{"datum":42,"type":"quantitative"}}},
{"data":{"name":"sig"},"transform":[{"filter":{"field":"p","equal":"F"}}],"mark":{"type":"text","font":"Liberation Serif","fontSize":16.5,"color":"#111","baseline":"alphabetic","dy":-10},
"encoding":{"y":{"datum":42,"type":"quantitative"},"text":{"field":"t"}}}
]}
]},
{"width":222,"height":30,"data":{"name":"leg"},
"layer":[
{"mark":{"type":"point","shape":"circle","filled":false,"strokeWidth":2.3,"size":150,"opacity":1},
"encoding":{"x":{"datum":0,"type":"quantitative","scale":{"domain":[0,1]},"axis":null},
"y":{"field":"name","type":"nominal","scale":{"type":"point","padding":0,"domain":["Healthy Donor","COVID-19 Survivor"],"range":[-1,29]},"axis":null},
"stroke":{"field":"name","type":"nominal","scale":{"domain":["Healthy Donor","COVID-19 Survivor"],"range":["#6e9cf2","#e1872d"]},"legend":null}}},
{"mark":{"type":"text","align":"left","dx":11,"font":"Liberation Serif","fontWeight":"bold","fontSize":15,"color":"#222"},
"encoding":{"x":{"datum":0,"type":"quantitative"},"y":{"field":"name","type":"nominal"},"text":{"field":"name"}}}
]}
]}
],
"config":{
"view":{"stroke":null},
"title":{"anchor":"start","frame":"bounds","font":"Liberation Sans","fontSize":21,"fontWeight":"normal","color":"#000","baseline":"alphabetic"},
"axis":{"domainColor":"#000","domainWidth":2,"tickColor":"#000","tickWidth":2,"tickSize":5,"labelFont":"Liberation Serif","labelFontWeight":"bold","labelFontSize":13,"labelColor":"#000","labelPadding":3,"titleFont":"Liberation Serif","titleFontWeight":"bold","titleFontSize":18,"titleColor":"#000","titlePadding":0,"grid":false},
"axisX":{"tickSize":6}
}
}
